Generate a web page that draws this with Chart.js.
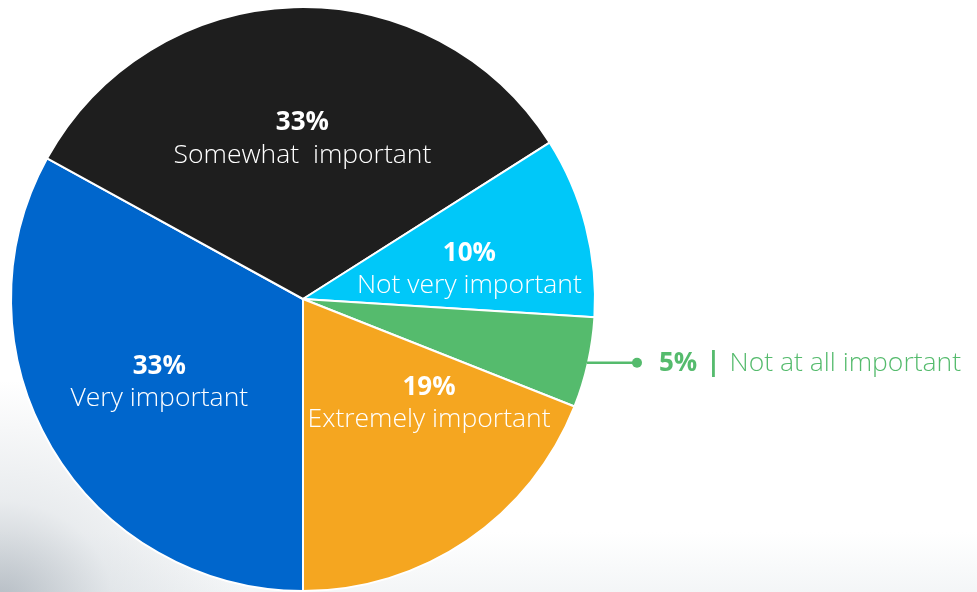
<!DOCTYPE html>
<html>
<head>
<meta charset="utf-8">
<title>Importance</title>
<script src="https://cdn.jsdelivr.net/npm/chart.js@4/dist/chart.umd.min.js"></script>
<style>
    html, body { margin: 0; padding: 0; }
    body {
        width: 977px;
        height: 592px;
        overflow: hidden;
        background:
            radial-gradient(ellipse 250px 220px at 0px 600px, rgba(150,160,170,0.65), rgba(200,207,213,0.4) 45%, rgba(255,255,255,0) 100%),
            linear-gradient(to top, rgba(232,236,239,0.5), rgba(255,255,255,0) 60px),
            #ffffff;
    }
    #wrap { position: relative; width: 977px; height: 592px; }
</style>
</head>
<body>
<div id="wrap"><canvas id="importanceChart" width="977" height="592"></canvas></div>
<script>
    // Survey answers, clockwise from 6 o'clock
    var categories = ['Very important', 'Somewhat  important', 'Not very important', 'Not at all important', 'Extremely important'];
    var shares = [33, 33, 10, 5, 19];
    var colors = ['#0066cc', '#1e1e1e', '#00c8f9', '#55bb6d', '#f5a620'];

    // Slices whose label sits outside the pie
    var outsideLabels = ['Not at all important'];

    // Small shifts of the inside labels from the slice centre point
    var labelNudge = [[-18, 9], [4, -14], [25, 7], [0, 0], [44, -16]];

    var FONT = '"Open Sans", "Noto Sans", sans-serif';

    var sliceLabels = {
        id: 'sliceLabels',
        afterDatasetsDraw: function (chart) {
            var ctx = chart.ctx;
            var meta = chart.getDatasetMeta(0);
            ctx.save();
            ctx.textAlign = 'center';
            ctx.textBaseline = 'middle';

            meta.data.forEach(function (arc, i) {
                var name = categories[i];
                var pct = shares[i] + '%';

                if (outsideLabels.indexOf(name) !== -1) {
                    // leader line from the rim to a dot, text after it
                    var p = arc.getProps(['x', 'y', 'startAngle', 'endAngle', 'outerRadius'], true);
                    var mid = (p.startAngle + p.endAngle) / 2;
                    var sx = p.x + Math.cos(mid) * (p.outerRadius - 1);
                    var sy = p.y + Math.sin(mid) * p.outerRadius;
                    var ex = sx + 50;
                    var col = colors[i];

                    ctx.strokeStyle = col;
                    ctx.lineWidth = 2.5;
                    ctx.beginPath();
                    ctx.moveTo(sx, sy);
                    ctx.lineTo(ex, sy);
                    ctx.stroke();

                    ctx.fillStyle = col;
                    ctx.beginPath();
                    ctx.arc(ex, sy, 5, 0, Math.PI * 2);
                    ctx.fill();

                    ctx.textAlign = 'left';
                    var tx = ex + 22;
                    ctx.font = 'bold 26px ' + FONT;
                    ctx.fillText(pct, tx, sy + 1);
                    tx += ctx.measureText(pct).width + 9;
                    ctx.fillText('|', tx, sy + 1);
                    tx += ctx.measureText('|').width + 9;
                    ctx.font = '300 26.5px ' + FONT;
                    ctx.fillText(name, tx, sy + 1);
                    ctx.textAlign = 'center';
                    return;
                }

                var pos = arc.tooltipPosition();
                var x = pos.x + labelNudge[i][0];
                var y = pos.y + labelNudge[i][1];

                ctx.fillStyle = '#ffffff';
                ctx.font = 'bold 26px ' + FONT;
                ctx.fillText(pct, x, y - 16);
                ctx.font = '300 26.5px ' + FONT;
                ctx.fillText(name, x, y + 16);
            });

            ctx.restore();
        }
    };

    new Chart(document.getElementById('importanceChart'), {
        type: 'pie',
        data: {
            labels: categories,
            datasets: [{
                data: shares,
                backgroundColor: colors,
                borderColor: '#ffffff',
                borderWidth: 2
            }]
        },
        options: {
            responsive: false,
            animation: false,
            rotation: 180,
            layout: {
                padding: { left: 10, top: 6, right: 381, bottom: 0 }
            },
            plugins: {
                legend: { display: false },
                tooltip: { enabled: false }
            }
        },
        plugins: [sliceLabels]
    });
</script>
</body>
</html>
